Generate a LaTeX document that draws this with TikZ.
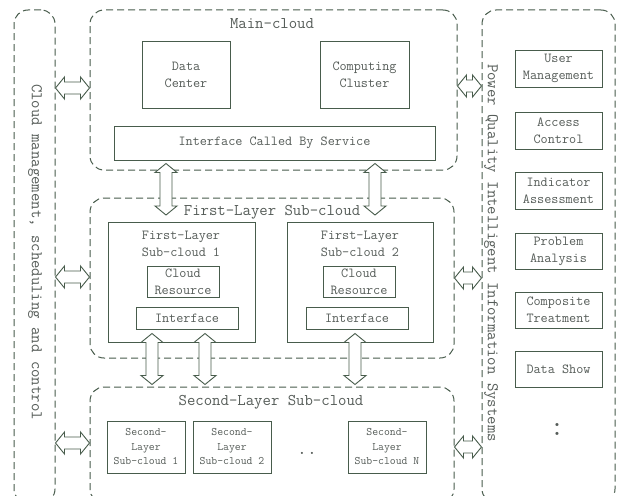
\documentclass[tikz,border=0pt]{standalone}
\usepackage{fontspec}
\usepackage{tikz}
\usetikzlibrary{calc}

\definecolor{linecol}{RGB}{72,92,76}
\definecolor{textcol}{RGB}{85,92,88}

\newcommand{\txtfont}{\fontsize{13.8}{17}\selectfont\ttfamily}
\newcommand{\bigfont}{\fontsize{16.3}{19}\selectfont\ttfamily}
\newcommand{\smallfont}{\fontsize{11.4}{14.5}\selectfont\ttfamily}

\tikzset{
  box/.style={draw=linecol, line width=1pt, text=textcol, align=center, font=\txtfont, inner sep=0pt},
  cloudbox/.style={draw=linecol, line width=1pt, dash pattern=on 7pt off 4pt, rounded corners=14pt, inner sep=0pt},
  lbl/.style={text=textcol, font=\bigfont, inner sep=0pt},
  hollow/.style={draw=linecol, fill=white, line width=0.9pt, to path={
     -- ($(\tikztostart)!9pt!(\tikztotarget)!11pt!90:(\tikztotarget)$)
     -- ($(\tikztostart)!9pt!(\tikztotarget)!6pt!90:(\tikztotarget)$)
     -- ($(\tikztotarget)!9pt!(\tikztostart)!6pt!-90:(\tikztostart)$)
     -- ($(\tikztotarget)!9pt!(\tikztostart)!11pt!-90:(\tikztostart)$)
     -- (\tikztotarget)
     -- ($(\tikztotarget)!9pt!(\tikztostart)!11pt!90:(\tikztostart)$)
     -- ($(\tikztotarget)!9pt!(\tikztostart)!6pt!90:(\tikztostart)$)
     -- ($(\tikztostart)!9pt!(\tikztotarget)!6pt!-90:(\tikztotarget)$)
     -- ($(\tikztostart)!9pt!(\tikztotarget)!11pt!-90:(\tikztotarget)$)
     -- cycle}},
}

\begin{document}
\begin{tikzpicture}[x=1pt, y=-1pt]

\clip (0,0) rectangle (617,495);
\fill[white] (0,0) rectangle (617,495);

% outer dashed regions
\node[cloudbox, minimum width=41, minimum height=493] (ctrl) at (34.5,256.5) {};
\node[cloudbox, minimum width=367, minimum height=160] (main) at (273.5,90) {};
\node[cloudbox, minimum width=364, minimum height=160] (first) at (272,278) {};
\node[cloudbox, minimum width=364, minimum height=116] (second) at (272,445) {};
\node[cloudbox, minimum width=133, minimum height=493] (pqis) at (548.5,256.5) {};

\node[lbl, rotate=-90] (ctrllbl) at (35,252) {Cloud management, scheduling and control};
\node[lbl, rotate=-90] (pqislbl) at (491,253) {Power Quality Intelligent Information Systems};

% main cloud
\node[lbl] (mainlbl) at (272,24) {Main-cloud};
\node[box, minimum width=88, minimum height=66] (dc) at (186,75) {Data\\Center};
\node[box, minimum width=89, minimum height=66] (cc) at (364.5,75) {Computing\\Cluster};
\node[box, minimum width=321, minimum height=34] (ifs) at (274.5,143) {Interface Called By Service};

% first layer
\node[lbl] (firstlbl) at (272,212) {First-Layer Sub-cloud};
\node[box, minimum width=147, minimum height=120] (f1) at (181.5,282) {};
\node[box, minimum width=146, minimum height=120] (f2) at (360,282) {};
\node[text=textcol, font=\txtfont, align=center, inner sep=0pt] (f1t) at (181,244) {First-Layer\\Sub-cloud 1};
\node[text=textcol, font=\txtfont, align=center, inner sep=0pt] (f2t) at (360,244) {First-Layer\\Sub-cloud 2};
\node[box, minimum width=72, minimum height=31] (cr1) at (183,281.5) {Cloud\\Resource};
\node[box, minimum width=72, minimum height=31] (cr2) at (359,281.5) {Cloud\\Resource};
\node[box, minimum width=102, minimum height=22] (if1) at (187,318) {Interface};
\node[box, minimum width=102, minimum height=22] (if2) at (357,318) {Interface};

% second layer
\node[lbl] (secondlbl) at (271,402) {Second-Layer Sub-cloud};
\node[box, font=\smallfont, minimum width=78, minimum height=52] (s1) at (146,447) {Second-\\Layer\\Sub-cloud 1};
\node[box, font=\smallfont, minimum width=78, minimum height=52] (s2) at (232,447) {Second-\\Layer\\Sub-cloud 2};
\node[box, font=\smallfont, minimum width=78, minimum height=52] (sN) at (387,447) {Second-\\Layer\\Sub-cloud N};
\node[text=textcol, font=\fontsize{19}{19}\selectfont\ttfamily, inner sep=0pt, anchor=base] (sdots) at (307,454) {..};

% information system modules
\node[box, minimum width=87, minimum height=37] (um) at (558.5,68.5) {User\\Management};
\node[box, minimum width=87, minimum height=37] (ac) at (558.5,130.5) {Access\\Control};
\node[box, minimum width=87, minimum height=37] (ia) at (558.5,190.5) {Indicator\\Assessment};
\node[box, minimum width=87, minimum height=36] (pa) at (558.5,251) {Problem\\Analysis};
\node[box, minimum width=87, minimum height=36] (ct) at (558.5,310) {Composite\\Treatment};
\node[box, minimum width=87, minimum height=36] (ds) at (558.5,369) {Data Show};
\node[text=textcol, font=\fontsize{28}{28}\selectfont\ttfamily, inner sep=0pt] (mdots) at (557,429) {:};

% hollow arrows
\coordinate (a1) at (166,215);
\coordinate (a2) at (375,215);
\coordinate (b1) at (152,0);
\coordinate (b2) at (205,0);
\coordinate (b3) at (355,0);

\draw[hollow] ([yshift=-3pt]ifs.south -| a1) to (a1);
\draw[hollow] ([yshift=-3pt]ifs.south -| a2) to (a2);
\draw[hollow] ([yshift=-4pt]if1.south -| b1) to ([yshift=2pt]second.north -| b1);
\draw[hollow] ([yshift=-4pt]if1.south -| b2) to ([yshift=2pt]second.north -| b2);
\draw[hollow] ([yshift=-4pt]if2.south -| b3) to ([yshift=2pt]second.north -| b3);

\draw[hollow] (ctrl.east |- 0,88) to (main.west |- 0,88);
\draw[hollow] (ctrl.east |- 0,277) to (first.west |- 0,277);
\draw[hollow] (ctrl.east |- 0,443) to (second.west |- 0,443);
\draw[hollow] (main.east |- 0,86) to (pqis.west |- 0,86);
\draw[hollow] (first.east |- 0,278) to (pqis.west |- 0,278);
\draw[hollow] (second.east |- 0,447) to (pqis.west |- 0,447);

\end{tikzpicture}
\end{document}
